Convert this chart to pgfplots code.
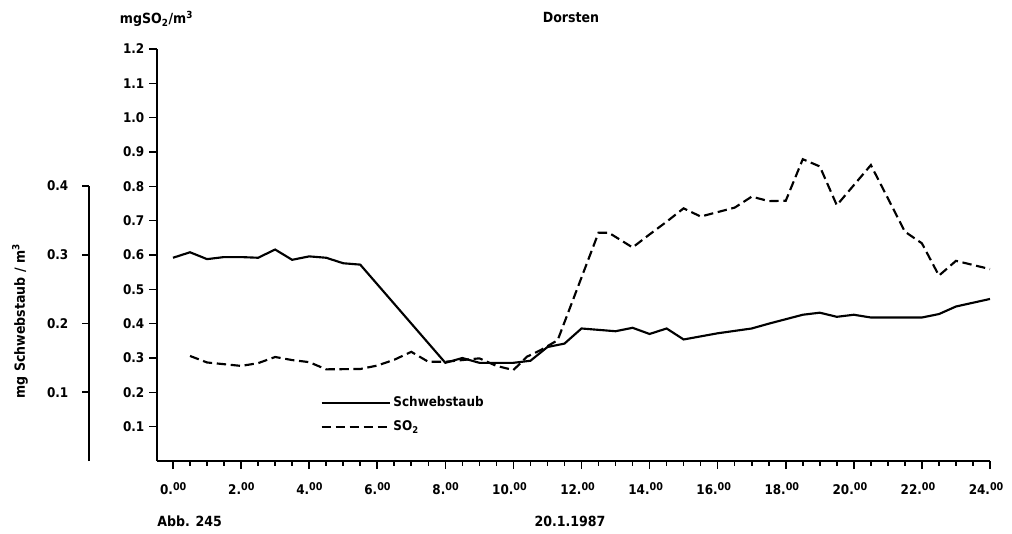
\documentclass[border=0pt]{standalone}
\usepackage{pgfplots}
\pgfplotsset{compat=1.18}
\usepackage{pgfplotstable}
\usepackage{fontspec}
\setmainfont{DejaVu Sans Condensed}

\pgfplotstableread{
t s
0 0.296
0.5 0.304
1.0 0.294
1.5 0.297
2.0 0.297
2.5 0.296
3.0 0.308
3.5 0.293
4.0 0.298
4.5 0.296
5.0 0.288
5.5 0.286
8.0 0.143
8.5 0.150
9.0 0.143
10.0 0.143
10.5 0.146
11.0 0.166
11.5 0.171
12.0 0.193
13.0 0.189
13.5 0.194
14.0 0.185
14.5 0.193
15.0 0.177
16.0 0.186
17.0 0.193
17.5 0.200
18.5 0.213
19.0 0.216
19.5 0.210
20.0 0.213
20.5 0.209
22.0 0.209
22.5 0.214
23.0 0.225
24.0 0.236
}\staub

\pgfplotstableread{
t so
0.5 0.306
1.0 0.287
2.0 0.277
2.5 0.285
3.0 0.303
3.5 0.294
4.0 0.288
4.5 0.267
5.5 0.268
6.0 0.278
6.5 0.295
7.0 0.318
7.5 0.289
8.0 0.289
8.5 0.294
9.0 0.299
9.5 0.277
10.0 0.265
10.4 0.304
10.8 0.323
11.3 0.352
12.5 0.665
12.8 0.665
13.5 0.622
14.0 0.660
14.5 0.697
15.0 0.736
15.5 0.712
16.0 0.725
16.5 0.738
17.0 0.770
17.5 0.757
18.0 0.758
18.5 0.879
19.0 0.858
19.5 0.745
20.5 0.862
21.5 0.668
22.0 0.634
22.5 0.540
23.0 0.583
24.0 0.559
}\sotwo

\newcommand{\hr}[1]{\llap{#1.}\rlap{\raisebox{0.5ex}{\fontsize{8}{9}\selectfont 00}}}

\begin{document}
\begin{tikzpicture}[font=\bfseries]
\path[use as bounding box] (0pt,0pt) rectangle (759pt,-399.75pt);

% outer axis (Schwebstaub)
\begin{axis}[
  scale only axis,
  at={(66.75pt,-345.75pt)}, anchor=south west,
  width=10pt, height=206.25pt,
  xmin=0, xmax=1, ymin=0, ymax=0.4,
  axis x line=none,
  axis y line=left,
  axis line style={-, line width=1.4pt},
  ytick={0.1,0.2,0.3,0.4},
  tick align=outside,
  major tick length=5pt,
  tick style={line width=1.2pt, black},
  yticklabel style={/pgf/number format/fixed, /pgf/number format/fixed zerofill, /pgf/number format/precision=1, /pgf/number format/assume math mode=true, font=\fontsize{10}{12}\selectfont\bfseries, xshift=-7pt},
]
\end{axis}

\begin{axis}[
  scale only axis,
  at={(117.75pt,-345.75pt)}, anchor=south west,
  width=624.75pt, height=309pt,
  xmin=-0.47, xmax=24, ymin=0, ymax=1.2,
  axis x line=bottom, axis y line=left,
  axis line style={-, line width=1.4pt},
  xtick={0,2,...,24},
  minor x tick num=3,
  xticklabels={{\hr{0}},{\hr{2}},{\hr{4}},{\hr{6}},{\hr{8}},{\hr{10}},{\hr{12}},{\hr{14}},{\hr{16}},{\hr{18}},{\hr{20}},{\hr{22}},{\hr{24}}},
  ytick={0.1,0.2,...,1.2},
  tick align=outside,
  major tick length=6pt,
  minor tick length=3.5pt,
  tick style={line width=1.2pt, black},
  yticklabel style={/pgf/number format/fixed, /pgf/number format/fixed zerofill, /pgf/number format/precision=1, /pgf/number format/assume math mode=true, font=\fontsize{10}{12}\selectfont\bfseries},
  xticklabel style={font=\fontsize{10}{12}\selectfont\bfseries, yshift=-7pt},
  legend style={draw=none, fill=none, at={(axis cs:4.33,0.196)}, anchor=north west,
    font=\fontsize{10}{12}\selectfont\bfseries, row sep=5pt, inner sep=0pt},
  legend cell align=left,
  legend image code/.code={\draw[#1] (0pt,0pt) -- (51pt,0pt);},
]
\addplot[black, line width=1.6pt] table[x=t, y expr=2*\thisrow{s}] {\staub};
\addlegendentry{Schwebstaub}
\addplot[black, line width=1.6pt, dash pattern=on 7pt off 3.5pt] table[x=t, y=so] {\sotwo};
\addlegendentry{SO\textsubscript{2}}
\end{axis}

\node[font=\fontsize{10.5}{12}\selectfont\bfseries] at (117.4pt,-14.25pt) {mgSO\textsubscript{2}/m\textsuperscript{3}};
\node[font=\fontsize{10.5}{12}\selectfont\bfseries] at (428.25pt,-12.75pt) {Dorsten};
\node[font=\fontsize{10.5}{12}\selectfont\bfseries, anchor=west, inner sep=0pt] at (117.75pt,-390.75pt) {Abb. 245};
\node[font=\fontsize{10.5}{12}\selectfont\bfseries] at (427.5pt,-390.75pt) {20.1.1987};
\node[font=\fontsize{10.5}{12}\selectfont\bfseries, rotate=90] at (15pt,-240.75pt) {mg Schwebstaub / m\textsuperscript{3}};
\end{tikzpicture}
\end{document}
